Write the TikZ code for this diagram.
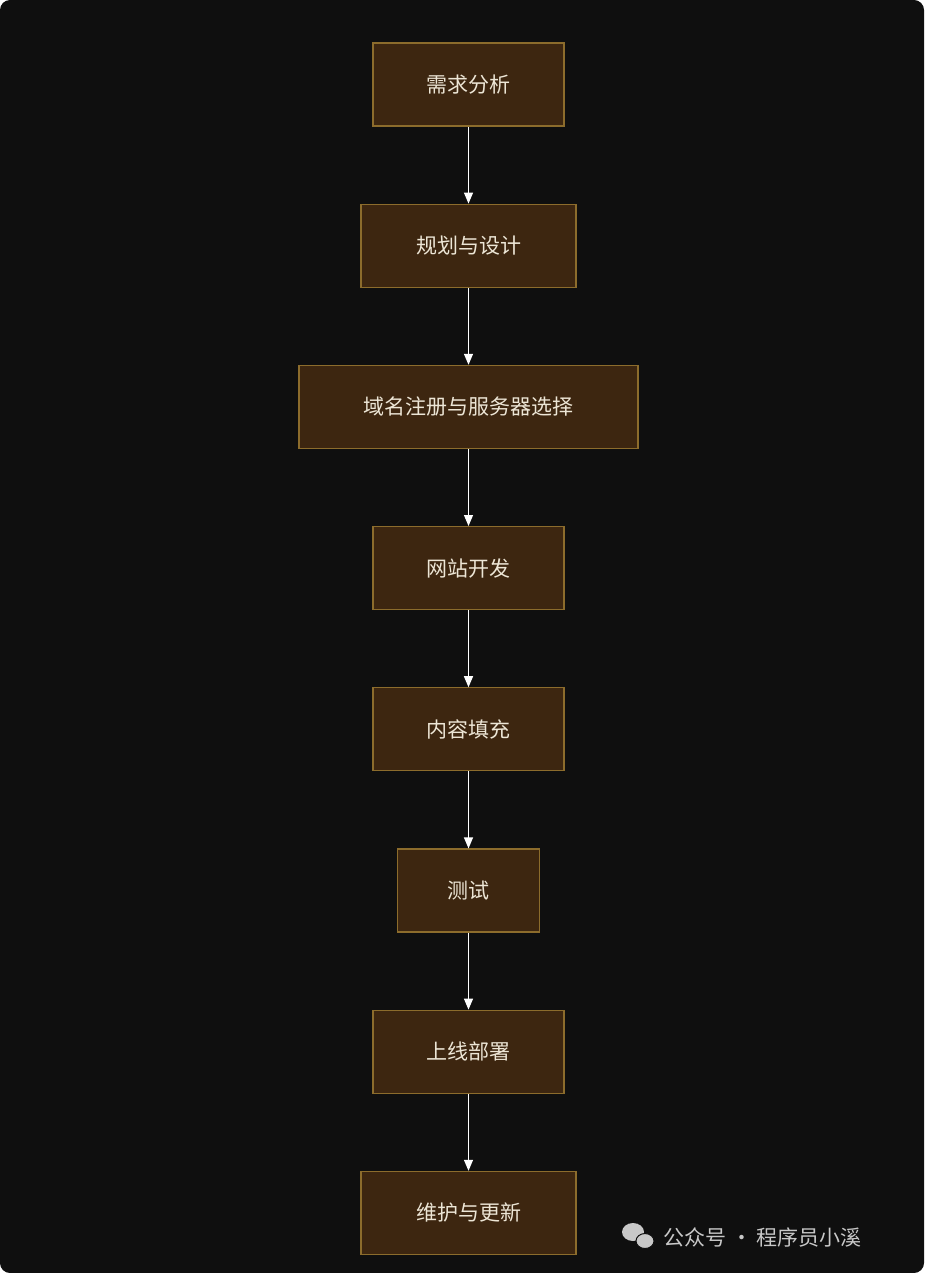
\documentclass[tikz,border=0pt]{standalone}
\usepackage{fontspec}
\setmainfont{Noto Sans CJK SC}
\usetikzlibrary{positioning,arrows.meta}
\definecolor{bgdark}{HTML}{0F0F0F}
\definecolor{stepfill}{HTML}{3D2610}
\definecolor{stepline}{HTML}{8C6C2C}
\definecolor{steptext}{HTML}{EDE6D6}
\definecolor{marktext}{HTML}{C8C8C8}
\begin{document}
\begin{tikzpicture}[x=1pt,y=-1pt, node distance=77pt,
every node/.style={font=\fontsize{21}{25}\selectfont},
stepbox/.style={draw=stepline, fill=stepfill, text=steptext, line width=1.2pt, rectangle, minimum height=83pt, inner sep=0pt},
flow/.style={draw=white, line width=1.2pt, -{Triangle[length=11pt,width=9pt]}}]
\fill[bgdark, rounded corners=10pt] (0,0) rectangle (924,1273);
\useasboundingbox (0,0) rectangle (924,1273);
\node[stepbox, minimum width=191pt] (need) at (468.5,84.5) {需求分析};
\node[stepbox, minimum width=215pt, below=of need] (plan) {规划与设计};
\node[stepbox, minimum width=339pt, below=of plan] (domain) {域名注册与服务器选择};
\node[stepbox, minimum width=191pt, below=of domain] (dev) {网站开发};
\node[stepbox, minimum width=191pt, below=of dev] (content) {内容填充};
\node[stepbox, minimum width=142pt, below=of content] (test) {测试};
\node[stepbox, minimum width=191pt, below=of test] (deploy) {上线部署};
\node[stepbox, minimum width=215pt, below=of deploy] (maint) {维护与更新};
\foreach \a/\b in {need/plan,plan/domain,domain/dev,dev/content,content/test,test/deploy,deploy/maint}
  \draw[flow] (\a) -- (\b);
% watermark
\fill[marktext] (633,1232) ellipse (11pt and 9pt);
\fill[marktext] (645,1241) ellipse (9pt and 7.5pt);
\draw[bgdark, line width=1pt] (645,1241) ellipse (9pt and 7.5pt);
\node[text=marktext, anchor=west] (mark) at (660,1237) {公众号 · 程序员小溪};
\end{tikzpicture}
\end{document}
